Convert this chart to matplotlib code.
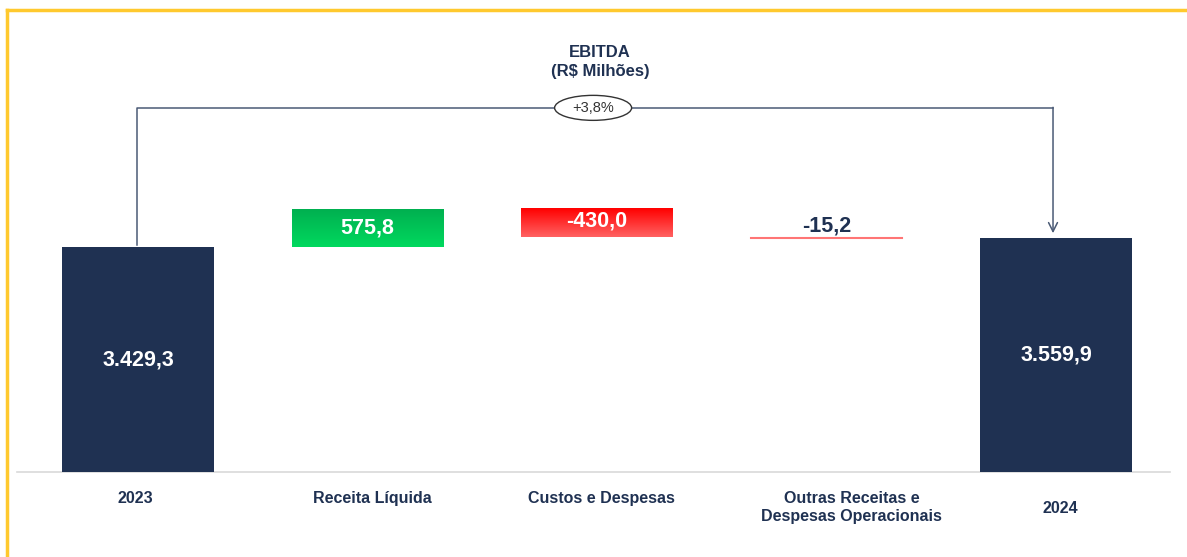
import numpy as np
import matplotlib
matplotlib.use("Agg")
import matplotlib.pyplot as plt
from matplotlib.lines import Line2D
from matplotlib.patches import Ellipse

plt.rcParams['font.family'] = ['Liberation Sans', 'DejaVu Sans']

# dados
categorias = ["2023", "Receita Líquida", "Custos e Despesas",
              "Outras Receitas e\nDespesas Operacionais", "2024"]
valores = [3429.3, 575.8, -430.0, -15.2, 3559.9]
rotulos = ["3.429,3", "575,8", "-430,0", "-15,2", "3.559,9"]
tipos = ["total", "delta", "delta", "delta", "total"]
variacao = "+3,8%"

navy = "#1F3152"
W, H = 1187, 557
fig = plt.figure(figsize=(W / 100, H / 100), dpi=100)
ax = fig.add_axes([0, 0, 1, 1])

# escala: 0 no pixel 85 (de baixo), 1 unidade = 0.06561 px
px = 0.06561
passo = 229.5
ax.axis("off")

x = np.arange(len(categorias))
largura = 0.662

acum = 0
bases, alturas = [], []
for v, t in zip(valores, tipos):
    if t == "total":
        bases.append(0)
        alturas.append(v)
        acum = v
    else:
        if v >= 0:
            bases.append(acum)
        else:
            bases.append(acum + v)
        alturas.append(abs(v))
        acum += v


def gradiente(ax, x0, y0, w, h, c1, c2):
    cols = np.array([matplotlib.colors.to_rgb(c1), matplotlib.colors.to_rgb(c2)])
    t = np.linspace(0, 1, 64)[:, None]
    img = (cols[0] * (1 - t) + cols[1] * t)[:, None, :]
    ax.imshow(img, extent=[x0, x0 + w, y0 + h, y0], origin="upper",
              aspect="auto", zorder=2, interpolation="bilinear")


for i in range(len(categorias)):
    b, h, v = bases[i], alturas[i], valores[i]
    x0 = x[i] - largura / 2
    if tipos[i] == "total":
        ax.bar(x[i], h, largura, bottom=b, color=navy, zorder=2)
        ax.text(x[i], b + h / 2, rotulos[i], color="white", fontsize=15.5,
                fontweight="bold", ha="center", va="center", zorder=4)
    elif abs(v) < 50:
        ax.plot([x0, x0 + largura], [b, b], color="#FF7575", lw=1.5, zorder=3)
        ax.text(x[i], b + 25, rotulos[i], color=navy, fontsize=15.5,
                fontweight="bold", ha="center", va="bottom", zorder=4)
    else:
        if v > 0:
            gradiente(ax, x0, b, largura, h, "#00D95E", "#00B050")
        else:
            gradiente(ax, x0, b, largura, h, "#FF6262", "#FF0000")
        ax.text(x[i], b + h / 2 + (40 if v < 0 else 0), rotulos[i], color="white",
                fontsize=15.5, fontweight="bold", ha="center", va="center", zorder=4)

ax.set_xlim(-138 / passo, (W - 138) / passo)
ax.set_ylim(-85 / px, (H - 85) / px)

# linha de base
ax.plot([(17 - 138) / passo, (1170 - 138) / passo], [0, 0], color="#D9D9D9", lw=1.2, zorder=1)

# rótulos das categorias
desloc_x = [-3, 5, 4, 25, 4]
desloc_y = [0, 0, 0, 0, 10]
for i, c in enumerate(categorias):
    yy = -(19 + desloc_y[i]) / px
    ax.text(x[i] + desloc_x[i] / passo, yy, c, color=navy, fontsize=11.5,
            fontweight="bold", ha="center", va="top", linespacing=1.25)

# colchete de variação
topo = 4005.1 + 1545
y_ini = valores[0] + 30
y_fim = valores[-1] + 80
cor_linha = "#4A5A75"
xf = x[-1] - 0.013
ax.plot([x[0] - 0.005, x[0] - 0.005, xf], [y_ini, topo, topo], color=cor_linha, lw=1.1, zorder=3)
ax.annotate("", xy=(xf, y_fim), xytext=(xf, topo + 8),
            arrowprops=dict(arrowstyle="->", color=cor_linha, lw=1.1,
                            mutation_scale=16, shrinkA=0, shrinkB=0), zorder=3)
ax.add_patch(Ellipse((1.983, topo), 77 / passo, 25 / px, fc="white", ec="#333333",
                     lw=1, zorder=5))
ax.text(1.983, topo, variacao, fontsize=10.5, color="#333333", ha="center", va="center",
        zorder=6)

# título
fig.text(600 / W, 1 - 62 / H, "EBITDA\n(R$ Milhões)", color=navy, fontsize=12,
         fontweight="bold", ha="center", va="center", linespacing=1.3)

# moldura amarela (topo e esquerda)
amarelo = "#FFC92E"
fig.add_artist(Line2D([7 / W, 1], [1 - 10 / H, 1 - 10 / H], color=amarelo, lw=2.5))
fig.add_artist(Line2D([7 / W, 7 / W], [0, 1 - 10 / H], color=amarelo, lw=2.5))

fig.savefig("out.png", dpi=100)
